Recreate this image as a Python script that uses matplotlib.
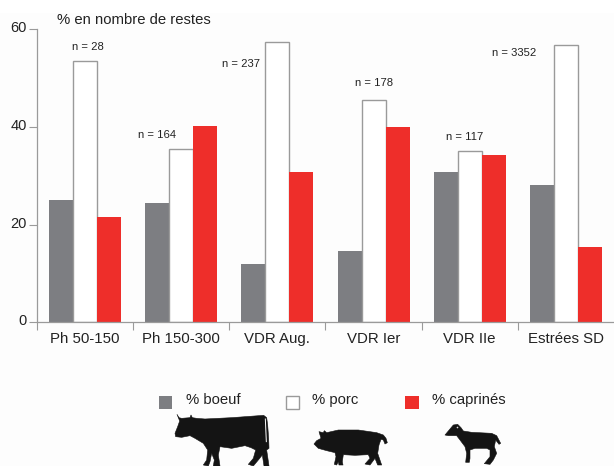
import numpy as np
import matplotlib
matplotlib.use("Agg")
import matplotlib.pyplot as plt
from matplotlib.patches import Polygon, Rectangle
from matplotlib.transforms import ScaledTranslation

plt.rcParams["font.family"] = ["Liberation Sans", "DejaVu Sans"]

# ===================== data =====================
sites = ["Ph 50-150", "Ph 150-300", "VDR Aug.", "VDR Ier", "VDR IIe", "Estrées SD"]
boeuf = [25.0, 24.4, 11.9, 14.7, 30.8, 28.2]
porc = [53.6, 35.4, 57.4, 45.6, 35.1, 56.7]
caprines = [21.5, 40.3, 30.8, 39.9, 34.2, 15.4]
n_labels = ["n = 28", "n = 164", "n = 237", "n = 178", "n = 117", "n = 3352"]
series_names = ["% boeuf", "% porc", "% caprinés"]
y_ticks = [0, 20, 40, 60]

# ===================== styles =====================
GREY = "#7d7e82"
RED = "#ee2e2a"
EDGE = "#9a9a9a"
TXT = "#222222"
W, H = 614, 466

n_pos = [(88, 47.3), (156.8, 135.3), (241, 63.7), (373.7, 83.3), (464.5, 137.3), (513.7, 53.3)]

fig = plt.figure(figsize=(W / 100, H / 100), dpi=100, facecolor="white")

# faint off-white paper behind the chart, as in the scan
fig.patches.append(Rectangle((0, 0), 1, 1 - 13 / H, transform=fig.transFigure, fc="#fdfdfd", ec="none", zorder=-5))

ax = fig.add_axes([37 / W, (H - 322.3) / H, (W - 37) / W, (322.3 - 29.3) / H])
ax.patch.set_alpha(0)
x = np.arange(len(sites))
bw = 0.25
ax.bar(x - bw, boeuf, bw, color=GREY, edgecolor="none")
ax.bar(x, porc, bw, color="white", edgecolor=EDGE, linewidth=1)
ax.bar(x + bw, caprines, bw, color=RED, edgecolor="none")

ax.set_xlim(-0.5, 5.5)
ax.set_ylim(0, 60)
ax.set_yticks(y_ticks)
ax.set_xticks(np.arange(-0.5, 5.5, 1))
ax.set_xticklabels([])
ax.set_xticks(x, minor=True)
ax.set_xticklabels(sites, minor=True, fontsize=10.8, color=TXT)
ax.tick_params(axis="x", which="major", length=5.5, width=0.8, color=EDGE)
ax.tick_params(axis="x", which="minor", length=0, pad=6.8)
ax.tick_params(axis="y", length=5.5, width=0.8, color=EDGE, labelsize=10.5, labelcolor=TXT, pad=2)
# y labels sit a little above their ticks in the reference
shift = ScaledTranslation(0, 2.5 / 100, fig.dpi_scale_trans)
for lab in ax.get_yticklabels():
    lab.set_transform(lab.get_transform() + shift)
for side in ["top", "right"]:
    ax.spines[side].set_visible(False)
for side in ["left", "bottom"]:
    ax.spines[side].set_color(EDGE)
    ax.spines[side].set_linewidth(0.9)

# overlay in pixel coords for annotations, legend and silhouettes
ov = fig.add_axes([0, 0, 1, 1])
ov.set_xlim(0, W)
ov.set_ylim(H, 0)
ov.axis("off")

ov.text(56.7, 20.3, "% en nombre de restes", fontsize=10.7, color=TXT, ha="left", va="center")
for lab, (px, py) in zip(n_labels, n_pos):
    ov.text(px, py, lab, fontsize=8.1, color=TXT, ha="center", va="center")

# legend
box_x = [159, 285.7, 405.3]
text_x = [185.7, 312, 431.7]
box_col = [GREY, "white", RED]
for bx, tx, c, name in zip(box_x, text_x, box_col, series_names):
    ov.add_patch(Rectangle((bx, 395.7), 13.3, 13.3, fc=c, ec=EDGE if c == "white" else "none", lw=1))
    ov.text(tx, 400.3, name, fontsize=10.7, color=TXT, ha="left", va="center")

# silhouettes
cow = [(36, 28), (42, 38), (50, 40), (75, 38), (78, 30), (82, 38), (95, 40), (120, 42), (200, 38), (296, 31),
       (305, 38), (308, 60), (311, 100), (312, 130), (305, 135), (308, 155), (312, 183), (297, 183), (292, 150),
       (280, 165), (265, 183), (250, 178), (265, 160), (272, 135), (258, 128), (240, 122), (200, 130), (165, 125),
       (160, 150), (165, 183), (145, 183), (148, 165), (140, 145), (135, 170), (130, 183), (115, 180), (125, 165),
       (128, 135), (115, 115), (90, 100), (75, 92), (50, 97), (32, 95), (30, 85), (38, 65), (44, 48)]
pig = [(42, 35), (55, 38), (58, 32), (65, 38), (100, 30), (160, 30), (215, 38), (235, 45), (243, 55), (247, 68),
       (240, 72), (235, 60), (228, 58), (222, 75), (218, 100), (230, 135), (218, 135), (210, 115), (195, 135),
       (180, 132), (195, 115), (190, 104), (150, 106), (115, 104), (112, 125), (114, 135), (102, 135), (100, 125),
       (95, 135), (88, 133), (93, 110), (90, 98), (65, 92), (40, 85), (27, 72), (35, 62), (48, 55)]
sheep = [(30, 60), (45, 42), (55, 30), (68, 28), (78, 38), (85, 48), (110, 52), (170, 55), (185, 62), (197, 85),
         (192, 88), (182, 75), (178, 95), (185, 115), (175, 135), (165, 148), (148, 146), (165, 125), (165, 105),
         (155, 100), (120, 100), (105, 105), (105, 130), (103, 142), (92, 142), (95, 115), (90, 95), (75, 75),
         (65, 62), (40, 62)]


def animal(points, ox, oy):
    pts = [(ox + a / 3, oy + b / 3) for a, b in points]
    ov.add_patch(Polygon(pts, closed=True, fc="#141414", ec="#141414", lw=0.4, joinstyle="round"))


animal(cow, 165, 405)
animal(pig, 305, 420)
animal(sheep, 435, 415)
# tail sliver on the cow and eye of the sheep
ov.plot([165 + 301 / 3, 165 + 304 / 3], [405 + 42 / 3, 405 + 110 / 3], color="white", lw=0.7)
ov.plot([435 + 66 / 3], [415 + 36 / 3], "o", ms=1.2, color="#dddddd", mew=0)

fig.savefig("out.png", dpi=100)
